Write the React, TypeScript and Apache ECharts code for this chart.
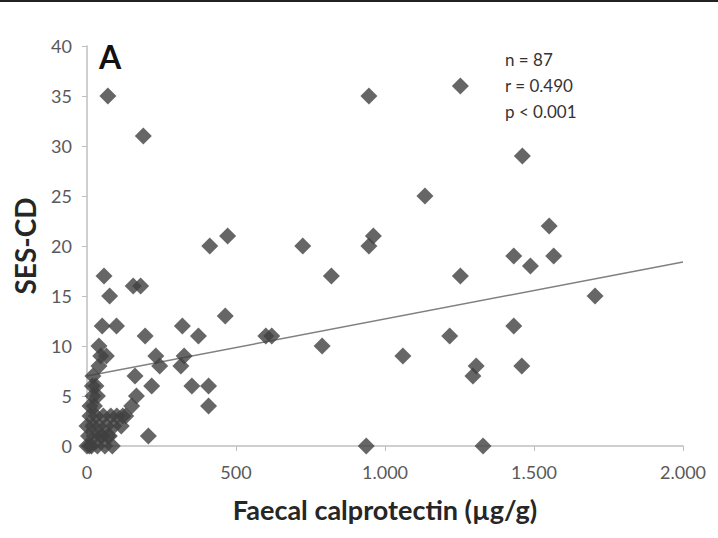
import React, { useEffect, useRef } from "react";
import * as echarts from "echarts";

const calprotectin: number[] = [
  70, 189, 946, 1253, 1461, 1134, 412, 472, 724, 961, 946, 1551, 1432, 1488, 1566,
  820, 1253, 1705, 600, 620, 789, 1432, 1217, 1060, 1306, 1295, 1459, 937, 1329,
  57, 76, 155, 180, 51, 99, 195, 320, 374, 464, 231, 244, 326, 315, 161, 217, 352,
  408, 408, 166, 150, 130, 206, 40, 46, 65, 40, 20, 18, 30, 20, 35,
  10, 30, 55, 80, 100, 0, 20, 40, 65, 90, 5, 25, 50, 75, 0, 15, 35, 60, 85, 10, 115,
  25, 45, 70, 120, 8,
];
const sesCd: number[] = [
  35, 31, 35, 36, 29, 25, 20, 21, 20, 21, 20, 22, 19, 18, 19,
  17, 17, 15, 11, 11, 10, 12, 11, 9, 8, 7, 8, 0, 0,
  17, 15, 16, 16, 12, 12, 11, 12, 11, 13, 9, 8, 9, 8, 7, 6, 6,
  6, 4, 5, 4, 3, 1, 10, 9, 9, 8, 7, 6, 6, 5, 5,
  3, 3, 3, 3, 3, 2, 2, 2, 2, 2, 1, 1, 1, 1, 0, 0, 0, 0, 0, 4, 2,
  4, 1, 1, 3, 0,
];
const trendX: number[] = [0, 2000];
const trendY: number[] = [7.0, 18.4];
const statsLines: string[] = ["n = 87", "r = 0.490", "p < 0.001"];
const panelLabel = "A";
const xTitle = "Faecal calprotectin (µg/g)";
const yTitle = "SES-CD";

const FONT = "Lato, 'Open Sans', sans-serif";

export default function App() {
  const ref = useRef<HTMLDivElement>(null);
  useEffect(() => {
    document.body.style.margin = "0";
    if (!ref.current) return;
    const chart = echarts.init(ref.current, null, { renderer: "svg" });
    const points = calprotectin.map((x, i) => [x, sesCd[i]]);
    chart.setOption({
      animation: false,
      backgroundColor: "#ffffff",
      textStyle: { fontFamily: FONT },
      grid: { left: 87, right: 35, top: 46, bottom: 92, containLabel: false },
      xAxis: {
        type: "value",
        min: 0,
        max: 2000,
        interval: 500,
        name: xTitle,
        nameLocation: "middle",
        nameGap: 50,
        nameTextStyle: { fontSize: 27, fontWeight: "bold", color: "#262626", fontFamily: FONT },
        axisLine: { show: true, lineStyle: { color: "#bfbfbf", width: 1.5 } },
        axisTick: { show: true, length: 5, lineStyle: { color: "#bfbfbf" } },
        axisLabel: {
          fontSize: 18,
          color: "#595959",
          margin: 17,
          fontFamily: FONT,
          formatter: (v: number) =>
            v >= 1000 ? `${Math.floor(v / 1000)}.${String(v % 1000).padStart(3, "0")}` : String(v),
        },
        splitLine: { show: false },
      },
      yAxis: {
        type: "value",
        min: 0,
        max: 40,
        interval: 5,
        name: yTitle,
        nameLocation: "middle",
        nameGap: 48,
        nameTextStyle: { fontSize: 28, fontWeight: "bold", color: "#262626", fontFamily: FONT },
        axisLine: { show: true, lineStyle: { color: "#bfbfbf", width: 1.5 } },
        axisTick: { show: true, length: 5, lineStyle: { color: "#bfbfbf" } },
        axisLabel: { fontSize: 18, color: "#595959", margin: 15, fontFamily: FONT },
        splitLine: { show: false },
      },
      series: [
        {
          type: "scatter",
          symbol: "diamond",
          symbolSize: 17,
          itemStyle: { color: "#404040" },
          data: points,
          z: 3,
        },
        {
          type: "line",
          data: trendX.map((x, i) => [x, trendY[i]]),
          symbol: "none",
          lineStyle: { color: "#808080", width: 1.5 },
          z: 2,
        },
      ],
      graphic: [
        {
          type: "line",
          shape: { x1: 0, y1: 1, x2: 718, y2: 1 },
          style: { stroke: "#222", lineWidth: 2 },
        },
        {
          type: "text",
          x: 99,
          y: 40,
          style: { text: panelLabel, font: `bold 32px ${FONT}`, fill: "#111" },
        },
        {
          type: "text",
          x: 505,
          y: 46,
          style: {
            text: statsLines.join("\n"),
            font: `17px ${FONT}`,
            lineHeight: 26,
            fill: "#333",
          },
        },
      ],
    });
    return () => chart.dispose();
  }, []);
  return <div ref={ref} style={{ width: 718, height: 538 }} />;
}
